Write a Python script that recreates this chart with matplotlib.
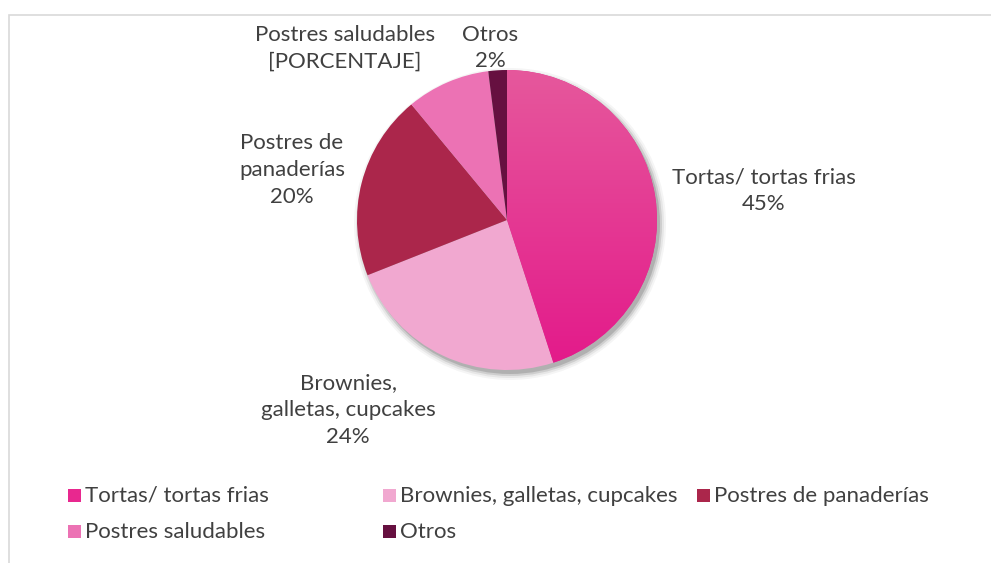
import numpy as np
import matplotlib.pyplot as plt
from matplotlib.patches import Circle, Rectangle
from matplotlib.colors import LinearSegmentedColormap

# --- DATA ---
categorias = ["Tortas/ tortas frias", "Brownies, galletas, cupcakes",
              "Postres de panaderías", "Postres saludables", "Otros"]
porcentajes = [45, 24, 20, 9, 2]
etiquetas = ["Tortas/ tortas frias\n45%",
             "Brownies,\ngalletas, cupcakes\n24%",
             "Postres de\npanaderías\n20%",
             "Postres saludables\n[PORCENTAJE]",
             "Otros\n2%"]
colores = ["#E8288F", "#F1A8D0", "#AB264B", "#EC72B4", "#661040"]

# label anchor points (pixels, from top-left)
pos_etiquetas = [(764, 191), (348, 410), (292, 170), (345, 48), (490, 48)]

W, H = 991, 563
CX, CY, R = 507, 220, 150
TXT = "#404040"
FS = 16

plt.rcParams["font.family"] = ["Lato", "DejaVu Sans"]

fig = plt.figure(figsize=(W / 100, H / 100), dpi=100)
ax = fig.add_axes([0, 0, 1, 1])

# chart frame (right/bottom edges run off the canvas)
ax.add_patch(Rectangle((8.5, -20), W + 20, H - 14.5 + 20, fill=False,
                       edgecolor="#D9D9D9", linewidth=1.2))

# soft drop shadow under the pie
for dr, a in [(6, 0.04), (4, 0.06), (2, 0.10), (0, 0.14)]:
    ax.add_patch(Circle((CX + 3, H - CY - 4), R + dr, color="black",
                        alpha=a, linewidth=0, zorder=1))

wedges, _ = ax.pie(porcentajes, colors=colores, startangle=90, counterclock=False,
                   center=(CX, H - CY), radius=R, frame=True,
                   wedgeprops=dict(linewidth=0, zorder=2))
ax.set_xlim(0, W)
ax.set_ylim(0, H)
ax.axis("off")

# vertical gradient on the largest slice
grad = np.linspace(0, 1, 256).reshape(-1, 1)
cmap = LinearSegmentedColormap.from_list("tortas", ["#E3198A", "#E6589C"])
img = ax.imshow(grad, cmap=cmap, origin="lower", aspect="auto",
                extent=(CX - R, CX + R, H - CY - R, H - CY + R), zorder=3)
img.set_clip_path(wedges[0])

for texto, (px, py) in zip(etiquetas, pos_etiquetas):
    ax.text(px, H - py, texto, ha="center", va="center", fontsize=FS,
            color=TXT, linespacing=1.43, zorder=5)

# legend, three entries per row (x of marker, text baseline)
leg_pos = [(68, 502), (383, 502), (697, 502), (68, 538), (383, 538)]
for cat, col, (px, py) in zip(categorias, colores, leg_pos):
    ax.add_patch(Rectangle((px, H - py), 13, 13, color=col, linewidth=0))
    ax.text(px + 17, H - py, cat, ha="left", va="baseline", fontsize=FS, color=TXT)

fig.savefig("out.png", dpi=100)
